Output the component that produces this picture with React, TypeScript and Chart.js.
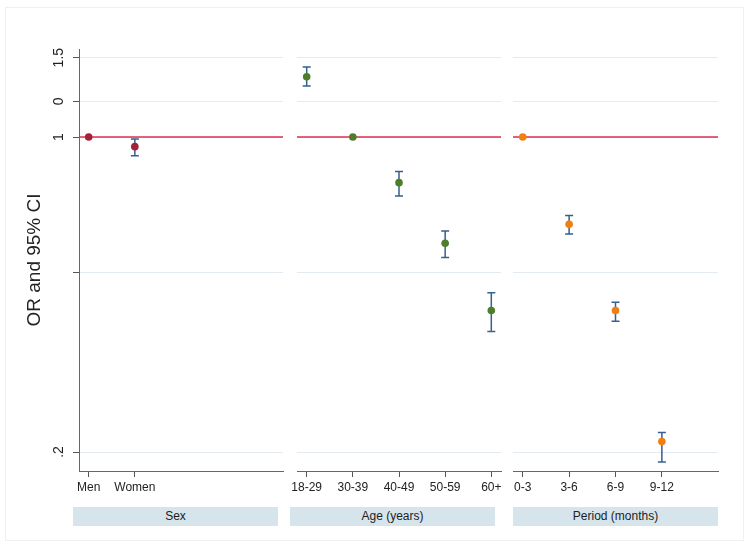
import React, { useEffect, useRef } from 'react';
import { Chart, registerables } from 'chart.js';

Chart.register(...registerables);

// ---- data ----
const yTickValues = [0.2, 0.5, 1, 1.2, 1.5];
const yTickLabels = ['.2', '', '1', '0', '1.5'];
const Y_MIN = 0.1815;
const Y_MAX = 1.568;
const X_MIN = -0.21;
const X_MAX = 4.21;
const REF_VALUE = 1;

const sexCats = ['Men', 'Women'];
const sexOR = [1, 0.952];
const sexLow: (number | null)[] = [null, 0.909];
const sexHigh: (number | null)[] = [null, 0.99];

const ageCats = ['18-29', '30-39', '40-49', '50-59', '60+'];
const ageOR = [1.361, 1, 0.792, 0.581, 0.412];
const ageLow: (number | null)[] = [1.298, null, 0.74, 0.54, 0.37];
const ageHigh: (number | null)[] = [1.43, null, 0.839, 0.619, 0.451];

const periodCats = ['0-3', '3-6', '6-9', '9-12'];
const periodOR = [1, 0.64, 0.412, 0.211];
const periodLow: (number | null)[] = [null, 0.609, 0.39, 0.19];
const periodHigh: (number | null)[] = [null, 0.67, 0.43, 0.221];

const stripLabels = ['Sex', 'Age (years)', 'Period (months)'];
const yTitle = 'OR and 95% CI';

// ---- style / layout ----
const FONT = "'Liberation Sans', Arial, Helvetica, sans-serif";
const W = 748;
const H = 546;
const CANVAS_H = 501;
const CI_COLOR = '#35608f';
const REF_COLOR = '#dc2f4f';
const GRID_COLOR = '#e4ebf0';
const AXIS_COLOR = '#666666';
const TEXT_COLOR = '#222222';

type Panel = {
  cats: string[];
  or: number[];
  low: (number | null)[];
  high: (number | null)[];
  color: string;
  strip: string;
  areaLeft: number;
  areaRight: number;
  stripLeft: number;
  showY: boolean;
};

const panels: Panel[] = [
  { cats: sexCats, or: sexOR, low: sexLow, high: sexHigh, color: '#a3213a', strip: stripLabels[0], areaLeft: 79, areaRight: 283, stripLeft: 73, showY: true },
  { cats: ageCats, or: ageOR, low: ageLow, high: ageHigh, color: '#4e7d2b', strip: stripLabels[1], areaLeft: 297, areaRight: 501, stripLeft: 290, showY: false },
  { cats: periodCats, or: periodOR, low: periodLow, high: periodHigh, color: '#f07f0f', strip: stripLabels[2], areaLeft: 513, areaRight: 718, stripLeft: 513, showY: false },
];

function PanelChart({ p }: { p: Panel }) {
  const ref = useRef<HTMLCanvasElement | null>(null);
  useEffect(() => {
    if (!ref.current) return;
    const errPlugin = {
      id: 'errbars',
      beforeDatasetsDraw(chart: any) {
        const { ctx } = chart;
        const x = chart.scales.x;
        const y = chart.scales.y;
        ctx.save();
        ctx.strokeStyle = CI_COLOR;
        ctx.lineWidth = 1.5;
        p.low.forEach((lo, i) => {
          const hi = p.high[i];
          if (lo == null || hi == null) return;
          const px = x.getPixelForValue(i);
          const y1 = y.getPixelForValue(lo);
          const y2 = y.getPixelForValue(hi);
          ctx.beginPath();
          ctx.moveTo(px, y1);
          ctx.lineTo(px, y2);
          ctx.moveTo(px - 4, y1);
          ctx.lineTo(px + 4, y1);
          ctx.moveTo(px - 4, y2);
          ctx.lineTo(px + 4, y2);
          ctx.stroke();
        });
        ctx.restore();
      },
    };

    const yAxisWidth = p.showY ? p.areaLeft : 0;
    const padLeft = p.showY ? 0 : p.areaLeft;

    const chart = new Chart(ref.current, {
      type: 'scatter',
      data: {
        datasets: [
          {
            data: p.or.map((v, i) => ({ x: i, y: v })),
            backgroundColor: p.color,
            borderColor: p.color,
            pointRadius: 3.8,
            pointBorderWidth: 0,
            showLine: false,
          },
          {
            data: [
              { x: X_MIN, y: REF_VALUE },
              { x: X_MAX, y: REF_VALUE },
            ],
            showLine: true,
            borderColor: REF_COLOR,
            borderWidth: 1.6,
            pointRadius: 0,
          },
        ],
      },
      options: {
        animation: false,
        responsive: false,
        devicePixelRatio: 1,
        events: [],
        layout: { padding: { left: padLeft, right: W - p.areaRight, top: 49, bottom: 0 } },
        plugins: { legend: { display: false }, tooltip: { enabled: false } },
        scales: {
          x: {
            type: 'linear',
            min: X_MIN,
            max: X_MAX,
            afterBuildTicks: (scale: any) => {
              scale.ticks = p.cats.map((_, i) => ({ value: i }));
            },
            afterFit: (scale: any) => {
              scale.height = CANVAS_H - 471;
            },
            ticks: {
              autoSkip: false,
              maxRotation: 0,
              minRotation: 0,
              padding: 3,
              color: TEXT_COLOR,
              font: { family: FONT, size: 12 },
              callback: (v: any) => p.cats[v as number] ?? '',
            },
            grid: { drawOnChartArea: false, drawTicks: true, tickLength: 6, tickColor: '#555555' },
            border: { display: true, color: AXIS_COLOR, width: 1 },
          },
          y: {
            type: 'logarithmic',
            min: Y_MIN,
            max: Y_MAX,
            afterBuildTicks: (scale: any) => {
              scale.ticks = yTickValues.map((v) => ({ value: v }));
            },
            afterFit: (scale: any) => {
              scale.width = yAxisWidth;
            },
            title: {
              display: p.showY,
              text: yTitle,
              color: TEXT_COLOR,
              font: { family: FONT, size: 19 },
              padding: { top: 23, bottom: 0 },
            },
            ticks: {
              display: p.showY,
              minRotation: 90,
              maxRotation: 90,
              crossAlign: 'center',
              padding: 4,
              color: TEXT_COLOR,
              font: { family: FONT, size: 14 },
              callback: (v: any) => {
                const idx = yTickValues.findIndex((t) => Math.abs(t - Number(v)) < 1e-9);
                return idx >= 0 ? yTickLabels[idx] : '';
              },
            },
            grid: {
              color: GRID_COLOR,
              drawTicks: p.showY,
              tickLength: 6,
              tickColor: '#555555',
            },
            border: { display: p.showY, color: AXIS_COLOR, width: 1 },
          },
        },
      } as any,
      plugins: [errPlugin],
    });
    return () => chart.destroy();
  }, [p]);

  return (
    <canvas
      ref={ref}
      width={W}
      height={CANVAS_H}
      style={{ position: 'absolute', left: 0, top: 0, width: W, height: CANVAS_H, display: 'block' }}
    />
  );
}

export default function App() {
  useEffect(() => {
    document.body.style.margin = '0';
  }, []);
  return (
    <div style={{ position: 'relative', width: W, height: H, background: '#ffffff', overflow: 'hidden' }}>
      <div
        style={{
          position: 'absolute',
          left: 5,
          top: 7,
          width: 737,
          height: 532,
          border: '1px solid #eef1f3',
        }}
      />
      {panels.map((p, i) => (
        <PanelChart key={i} p={p} />
      ))}
      {panels.map((p, i) => (
        <div
          key={'s' + i}
          style={{
            position: 'absolute',
            left: p.stripLeft,
            top: 507,
            width: 205,
            height: 19,
            lineHeight: '19px',
            background: '#d6e4ec',
            color: TEXT_COLOR,
            fontFamily: FONT,
            fontSize: 12,
            textAlign: 'center',
          }}
        >
          {p.strip}
        </div>
      ))}
    </div>
  );
}
